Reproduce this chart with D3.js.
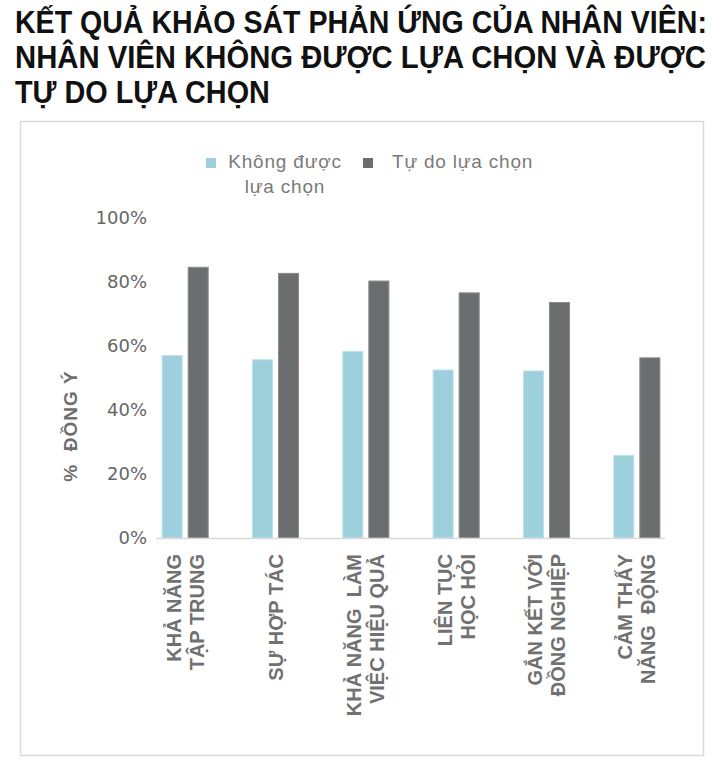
<!DOCTYPE html>
<html>
<head>
<meta charset="utf-8">
<script src="https://cdn.jsdelivr.net/npm/d3@7"></script>
<style>
  body { margin: 0; background: #fff; }
  svg { display: block; }
</style>
</head>
<body>
<svg id="chart" width="715" height="771"></svg>
<script>
// survey data: share of employees who agree, by statement
var categories = [
  ['KHẢ NĂNG', 'TẬP TRUNG'],
  ['SỰ HỢP TÁC'],
  ['KHẢ NĂNG  LÀM', 'VIỆC HIỆU QUẢ'],
  ['LIÊN TỤC', 'HỌC HỎI'],
  ['GẮN KẾT VỚI', 'ĐỒNG NGHIỆP'],
  ['CẢM THẤY', 'NĂNG  ĐỘNG']
];
var seriesNames = ['Không được lựa chọn', 'Tự do lựa chọn'];
var noChoice = [0.57, 0.557, 0.583, 0.525, 0.522, 0.258];
var freeChoice = [0.846, 0.827, 0.803, 0.766, 0.736, 0.563];
var yTicks = [0, 0.2, 0.4, 0.6, 0.8, 1];
var titleLines = [
  'KẾT QUẢ KHẢO SÁT PHẢN ỨNG CỦA NHÂN VIÊN:',
  'NHÂN VIÊN KHÔNG ĐƯỢC LỰA CHỌN VÀ ĐƯỢC',
  'TỰ DO LỰA CHỌN'
];
var colors = ['#9dd0dc', '#6b6e6e'];

var svg = d3.select('#chart');

// title: condensed look by squeezing each line horizontally to its width
var titleWidths = [692, 691, 255];
svg.append('g').attr('class', 'title').selectAll('text')
  .data(titleLines).enter().append('text')
  .attr('x', 0)
  .attr('y', 0)
  .style('font-family', '"Liberation Sans", Arial, sans-serif')
  .style('font-weight', 'bold')
  .style('font-size', '31px')
  .style('fill', '#111')
  .text(function(d) { return d; })
  .each(function(d, i) {
    var w = this.getComputedTextLength();
    var k = titleWidths[i] / w;
    d3.select(this).attr('transform', 'translate(15,' + (33 + i * 35) + ') scale(' + k + ',1)');
  });

// chart frame
svg.append('rect')
  .attr('x', 20.5).attr('y', 121.5)
  .attr('width', 683).attr('height', 634)
  .attr('fill', 'none')
  .attr('stroke', '#d9d9d9')
  .attr('stroke-width', 1.5);

var rows = categories.map(function(c, i) {
  return { key: i, label: c, values: [noChoice[i], freeChoice[i]] };
});

var x = d3.scaleBand()
  .domain(d3.range(categories.length))
  .range([140, 682])
  .paddingInner(0.49)
  .paddingOuter(0.245);

var x1 = d3.scaleBand()
  .domain([0, 1])
  .range([0, x.bandwidth()])
  .paddingInner(0.23);

var y = d3.scaleLinear().domain([0, 1]).range([538, 218]);

// y tick labels
var yAxis = svg.append('g')
  .attr('transform', 'translate(151,0)')
  .call(d3.axisLeft(y).tickValues(yTicks).tickFormat(d3.format('.0%')).tickSize(0).tickPadding(4));
yAxis.select('.domain').remove();
yAxis.selectAll('text')
  .style('font-family', '"DejaVu Sans", sans-serif')
  .style('font-size', '18px')
  .style('fill', '#666');

// y axis title
svg.append('text')
  .attr('transform', 'translate(77,426) rotate(-90)')
  .attr('text-anchor', 'middle')
  .style('font-family', '"Liberation Sans", Arial, sans-serif')
  .style('font-weight', 'bold')
  .style('font-size', '19px')
  .style('letter-spacing', '1px')
  .style('white-space', 'pre')
  .style('fill', '#6e6e6e')
  .text('%  ĐỒNG Ý');

// bars
var groups = svg.append('g').attr('class', 'bars').selectAll('g')
  .data(rows).enter().append('g')
  .attr('transform', function(d) { return 'translate(' + x(d.key) + ',0)'; });

groups.selectAll('rect')
  .data(function(d) { return d.values.map(function(v, j) { return { s: j, v: v }; }); })
  .enter().append('rect')
  .attr('x', function(d) { return x1(d.s); })
  .attr('y', function(d) { return y(d.v); })
  .attr('width', x1.bandwidth())
  .attr('height', function(d) { return y(0) - y(d.v); })
  .attr('fill', function(d) { return colors[d.s]; })
  .attr('stroke', function(d) { return d.s ? '#8a8c8c' : '#bde2ea'; })
  .attr('stroke-width', 1);

// baseline
var xr = x.range();
svg.append('line')
  .attr('x1', xr[0] + 16).attr('x2', xr[1] - 17)
  .attr('y1', y(0) + 0.5).attr('y2', y(0) + 0.5)
  .attr('stroke', '#d9d9d9')
  .attr('stroke-width', 1.5);

// category labels, rotated
var lineGap = 23;
var labels = svg.append('g').attr('class', 'xlabels').selectAll('g')
  .data(rows).enter().append('g')
  .attr('transform', function(d) {
    return 'translate(' + (x(d.key) + x.bandwidth() / 2) + ',554) rotate(-90)';
  });

labels.selectAll('text')
  .data(function(d) { return d.label; })
  .enter().append('text')
  .attr('text-anchor', 'end')
  .attr('x', 0)
  .attr('y', function(d, i, nodes) {
    var n = nodes.length;
    return (i - (n - 1) / 2) * lineGap + 7;
  })
  .style('font-family', '"Liberation Sans", Arial, sans-serif')
  .style('font-weight', 'bold')
  .style('font-size', '20px')
  .style('white-space', 'pre')
  .style('fill', '#717171')
  .text(function(d) { return d; });

// legend
var legend = svg.append('g').attr('class', 'legend');
var legendFont = function(sel) {
  sel.style('font-family', '"Liberation Sans", Arial, sans-serif')
    .style('font-size', '19px')
    .style('letter-spacing', '0.8px')
    .style('fill', '#7a7a7a');
};
legend.append('rect').attr('x', 206).attr('y', 158).attr('width', 10).attr('height', 10).attr('fill', colors[0]);
legend.append('text').attr('x', 285).attr('y', 168).attr('text-anchor', 'middle').call(legendFont).text('Không được');
legend.append('text').attr('x', 285).attr('y', 193).attr('text-anchor', 'middle').call(legendFont).text('lựa chọn');
legend.append('rect').attr('x', 363).attr('y', 158).attr('width', 10).attr('height', 10).attr('fill', colors[1]);
legend.append('text').attr('x', 392).attr('y', 168).call(legendFont).text(seriesNames[1]);
</script>
</body>
</html>
